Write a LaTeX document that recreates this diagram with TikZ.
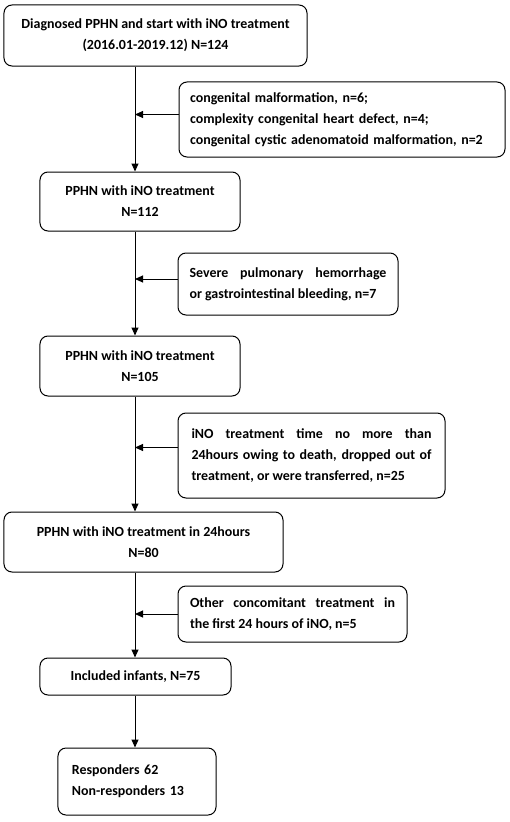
\documentclass[tikz,border=0pt]{standalone}
\usepackage{fontspec}
\setmainfont{Carlito}
\usetikzlibrary{positioning}
\usetikzlibrary{calc}
\usetikzlibrary{arrows.meta}

\hyphenpenalty=10000
\exhyphenpenalty=10000

\tikzset{
  stagebox/.style={draw, line width=1bp, rounded corners=8bp, inner sep=0pt,
    font=\bfseries\fontsize{14}{21}\selectfont},
  flow/.style={line width=1bp, -{Triangle[length=8bp, width=7bp]}}
}

\begin{document}
\begin{tikzpicture}[x=1bp, y=-1bp]

\pgfmathsetmacro{\SPX}{135}

\useasboundingbox (0, 0) rectangle (510, 822);
\coordinate (spine) at (\SPX, 0);

% main stages
\node [stagebox, align=center, minimum width=303bp, minimum height=61bp] (b1) at (155.5, 35.5)
{Diagnosed PPHN and start with iNO treatment\\(2016.01-2019.12) N=124};

\node [stagebox, align=center, minimum width=200bp, minimum height=59bp] (b2) at (140, 201.5)
{PPHN with iNO treatment\\N=112};

\node [stagebox, align=center, minimum width=200bp, minimum height=60bp] (b3) at (140, 366)
{PPHN with iNO treatment\\N=105};

\node [stagebox, align=center, minimum width=279bp, minimum height=60bp] (b4) at (143.5, 542)
{PPHN with iNO treatment in 24hours\\N=80};

\node [stagebox, align=center, minimum width=191bp, minimum height=37bp] (b5) at (135.5, 676.5)
{Included infants, N=75};

\node [stagebox, align=left, text width=130bp, minimum width=158bp, minimum height=67bp] (b6) at (137, 781.5)
{Responders 62\\Non-responders 13};

% exclusions
\node [stagebox, align=left, text width=304bp, minimum width=326bp, minimum height=75bp] (e1) at (342, 119.5)
{congenital malformation, n=6;\\complexity congenital heart defect, n=4;\\congenital cystic adenomatoid malformation, n=2};

\node [stagebox, align=justify, text width=197bp, minimum width=220bp, minimum height=62bp] (e2) at (288, 284)
{Severe pulmonary hemorrhage\linebreak or gastrointestinal bleeding, n=7};

\node [stagebox, align=justify, text width=240bp, minimum width=267bp, minimum height=85bp] (e3) at (311.5, 455.5)
{iNO treatment time no more than\linebreak 24hours owing to death, dropped out of\linebreak treatment, or were transferred, n=25};

\node [stagebox, align=justify, text width=205bp, minimum width=229bp, minimum height=56bp] (e4) at (292.5, 614)
{Other concomitant treatment in\linebreak the first 24 hours of iNO, n=5};

% connectors
\draw [flow] (b1.south -| spine) -- (b2.north -| spine);
\draw [flow] (b2.south -| spine) -- (b3.north -| spine);
\draw [flow] (b3.south -| spine) -- (b4.north -| spine);
\draw [flow] (b4.south -| spine) -- (b5.north -| spine);
\draw [flow] (b5.south -| spine) -- (b6.north -| spine);

\draw [flow] ($(e1.west) + (0, -5)$) -- ($(e1.west -| spine) + (0, -5)$);
\draw [flow] ($(e2.west) + (0, -5)$) -- ($(e2.west -| spine) + (0, -5)$);
\draw [flow] ($(e3.west) + (0, -8)$) -- ($(e3.west -| spine) + (0, -8)$);
\draw [flow] (e4.west) -- (e4.west -| spine);

\end{tikzpicture}
\end{document}
